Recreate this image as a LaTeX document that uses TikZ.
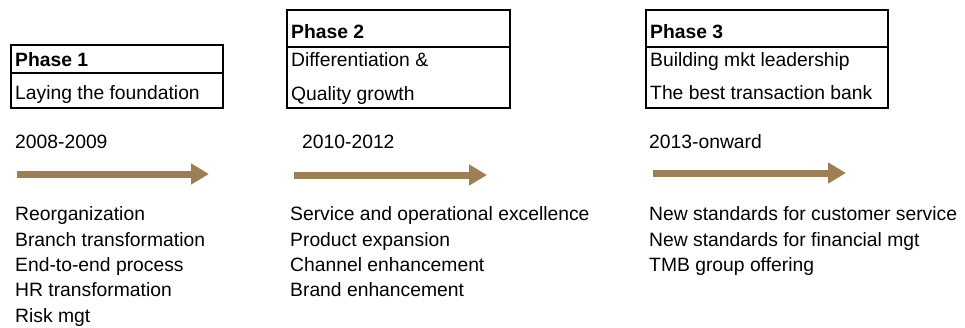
\documentclass[tikz,border=0pt]{standalone}
\usepackage{fontspec}
\setmainfont{Liberation Sans}
\usetikzlibrary{arrows.meta,calc}
\definecolor{arrowbrown}{RGB}{158,127,84}
\tikzset{
  phasebox/.style={draw=black, line width=1.6pt, rectangle, inner sep=0pt, anchor=north west},
  txt/.style={anchor=base west, inner sep=0pt, font=\fontsize{19.3}{23}\selectfont},
  hdr/.style={txt, font=\fontsize{19.3}{23}\selectfont\bfseries},
  phasearrow/.style={draw=arrowbrown, line width=7pt, -{Triangle[length=18pt, width=20pt]}}
}
\begin{document}
\begin{tikzpicture}[x=1pt, y=-1pt]
\useasboundingbox (0,0) rectangle (965,327);

% Phase boxes: header row and body row
\node[phasebox, minimum width=212pt, minimum height=28pt] (h1) at (10,44) {};
\node[phasebox, minimum width=212pt, minimum height=35pt] (b1) at (10,72) {};
\node[phasebox, minimum width=223pt, minimum height=37pt] (h2) at (286,9) {};
\node[phasebox, minimum width=223pt, minimum height=61pt] (b2) at (286,46) {};
\node[phasebox, minimum width=242pt, minimum height=37pt] (h3) at (645,9) {};
\node[phasebox, minimum width=242pt, minimum height=61pt] (b3) at (645,46) {};

% Box texts
\node[hdr] (p1) at (15,66) {Phase 1};
\node[txt] (p1a) at (15,99) {Laying the foundation};
\node[hdr] (p2) at (291,38) {Phase 2};
\node[txt] (p2a) at (291,66) {Differentiation \&};
\node[txt] (p2b) at (291,100) {Quality growth};
\node[hdr] (p3) at (650,38) {Phase 3};
\node[txt] (p3a) at (650,66) {Building mkt leadership};
\node[txt] (p3b) at (650,99) {The best transaction bank};

% Periods
\node[txt] (y1) at (15,148) {2008-2009};
\node[txt] (y2) at (302,148) {2010-2012};
\node[txt] (y3) at (649,148) {2013-onward};

% Timeline arrows
\coordinate (a1s) at (17,174);
\coordinate (a1e) at (209,174);
\coordinate (a2s) at (294,175);
\coordinate (a2e) at (487,175);
\coordinate (a3s) at (653,173);
\coordinate (a3e) at (846,173);
\draw[phasearrow] (a1s) -- (a1e);
\draw[phasearrow] (a2s) -- (a2e);
\draw[phasearrow] (a3s) -- (a3e);

% Initiatives per phase
\node[txt] (l11) at (15,220) {Reorganization};
\node[txt] (l12) at (15,246) {Branch transformation};
\node[txt] (l13) at (15,271) {End-to-end process};
\node[txt] (l14) at (15,296) {HR transformation};
\node[txt] (l15) at (15,322) {Risk mgt};

\node[txt] (l21) at (290,220) {Service and operational excellence};
\node[txt] (l22) at (290,246) {Product expansion};
\node[txt] (l23) at (290,271) {Channel enhancement};
\node[txt] (l24) at (290,296) {Brand enhancement};

\node[txt] (l31) at (649,220) {New standards for customer service};
\node[txt] (l32) at (649,246) {New standards for financial mgt};
\node[txt] (l33) at (649,271) {TMB group offering};
\end{tikzpicture}
\end{document}
